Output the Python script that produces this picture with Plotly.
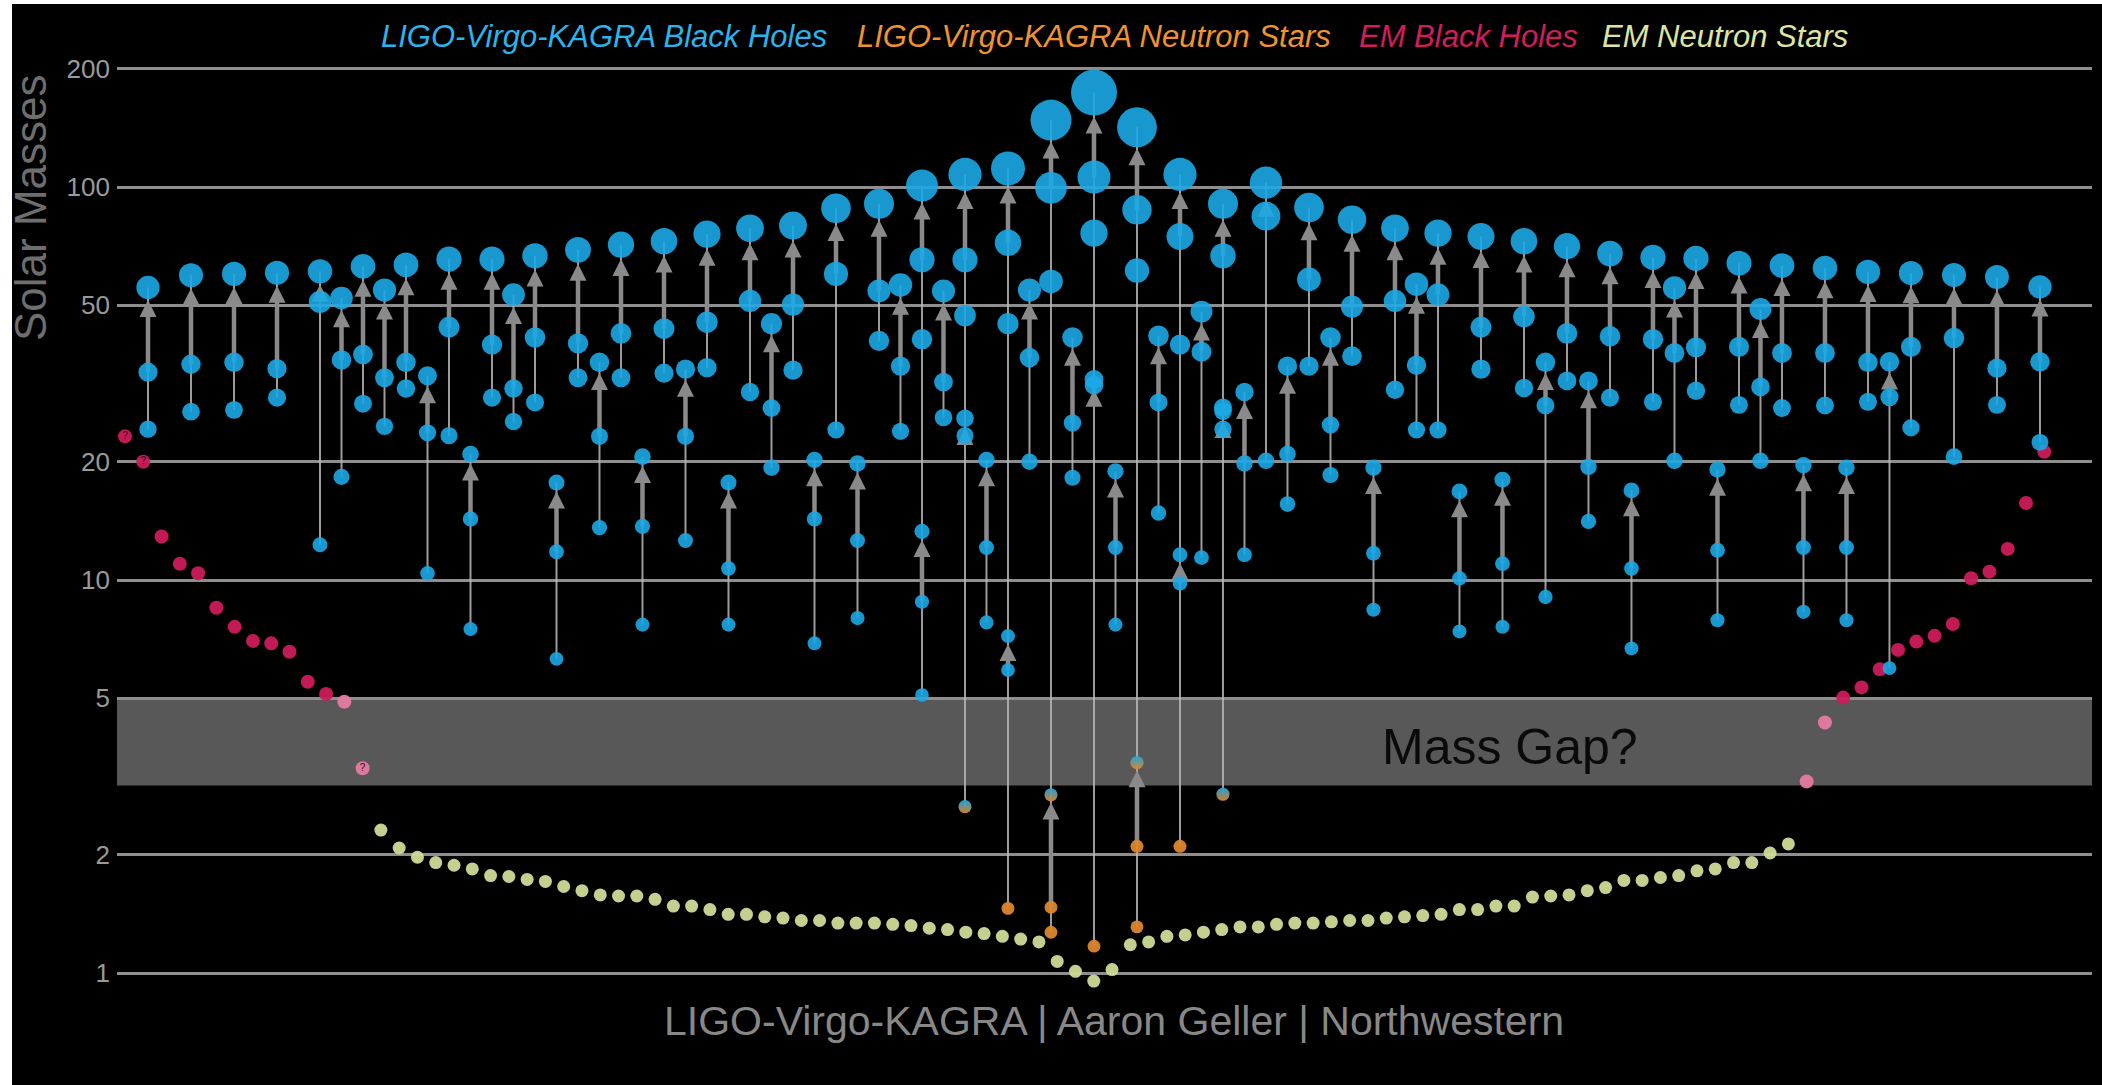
import numpy as np
import plotly.graph_objects as go

# ---------------- data ----------------
# LIGO-Virgo-KAGRA mergers: column slot, lighter component, heavier component, remnant
lvk_slot = [0, 2, 4, 6, 8, 9, 10, 11, 12, 13,
            14, 15, 16, 17, 18, 19, 20, 21, 22, 23,
            24, 25, 26, 27, 28, 29, 30, 31, 32, 33,
            34, 35, 36, 36, 37, 38, 38, 39, 40, 40,
            41, 42, 42, 43, 44, 44, 45, 46, 46, 47,
            48, 48, 49, 50, 50, 51, 52, 53, 54, 55,
            56, 57, 58, 59, 60, 61, 62, 63, 64, 65,
            66, 67, 68, 69, 70, 71, 72, 73, 74, 75,
            76, 77, 78, 79, 80, 81, 82, 84, 86, 88]
lvk_m2 = [24.2, 26.8, 27.1, 29.1, 12.3, 18.3, 28.1, 24.6, 30.7, 10.4,
          23.3, 7.5, 29.1, 25.3, 28.3, 6.3, 32.7, 13.6, 32.7, 7.7,
          33.6, 12.6, 34.7, 7.7, 30.1, 19.3, 34.2, 6.9, 24.1, 8.0,
          40.6, 23.9, 41.0, 5.1, 25.9, 47.1, 2.65, 7.8, 44.9, 1.46,
          20.0, 57.5, 1.27, 18.2, 76.3, 1.17, 7.7, 61.3, 1.31, 14.8,
          39.7, 2.10, 11.4, 27.5, 2.85, 11.6, 20.1, 15.6, 35.0, 18.5,
          37.1, 8.4, 30.5, 24.1, 24.1, 7.4, 34.4, 7.6, 30.8, 9.05,
          32.1, 14.1, 29.1, 6.7, 28.4, 20.1, 30.3, 7.9, 27.9, 20.1,
          27.4, 8.3, 27.8, 7.9, 28.4, 5.97, 24.4, 20.6, 27.9, 22.4]
lvk_m1 = [33.8, 35.4, 35.8, 34.5, 51.0, 36.3, 37.5, 32.7, 35.8, 23.7,
          44.0, 14.3, 39.7, 30.7, 41.4, 11.8, 40.0, 23.2, 42.4, 13.7,
          43.6, 23.2, 45.3, 10.7, 51.3, 27.4, 50.2, 14.3, 60.1, 12.6,
          54.4, 35.0, 65.3, 8.8, 31.9, 65.3, 23.3, 12.1, 72.1, 5.9,
          36.8, 99.5, 1.47, 25.1, 106.0, 31.3, 12.1, 87.5, 2.10, 28.3,
          74.8, 9.8, 38.1, 66.8, 24.2, 19.8, 84.3, 20.9, 58.2, 24.8,
          49.6, 11.7, 51.3, 35.2, 53.2, 10.1, 44.0, 11.0, 46.8, 27.8,
          42.4, 19.4, 41.7, 10.7, 41.0, 37.8, 39.1, 11.9, 39.2, 31.0,
          37.8, 12.1, 37.8, 12.1, 35.8, 29.2, 39.2, 41.3, 34.6, 35.9]
lvk_final = [55.5, 59.6, 60.1, 60.5, 61.0, 52.2, 62.8, 54.7, 63.4, 33.1,
             65.5, 20.9, 65.5, 53.2, 66.8, 17.7, 69.2, 35.8, 71.3, 20.6,
             72.8, 34.4, 75.9, 17.7, 78.5, 44.9, 79.8, 20.2, 88.3, 19.8,
             90.6, 56.3, 100.9, 13.3, 54.4, 107.6, 25.8, 20.2, 111.4, 7.2,
             54.7, 148.0, 2.84, 41.4, 174.0, 32.4, 18.9, 141.9, 3.43, 41.8,
             107.6, 11.6, 48.2, 90.6, 26.9, 30.1, 102.6, 35.0, 88.7, 41.4,
             82.6, 19.3, 78.5, 56.6, 76.3, 16.8, 74.8, 18.0, 72.8, 35.8,
             70.7, 32.1, 67.7, 16.9, 66.2, 55.4, 65.8, 19.1, 64.0, 48.9,
             63.1, 19.6, 62.2, 19.3, 60.8, 35.9, 60.4, 59.7, 59.0, 55.7]

# Electromagnetically observed compact objects (black holes on both wings, neutron stars between)
em_bh_left = [23.2, 20.0, 12.9, 11.0, 10.4, 8.5, 7.6, 7.0, 6.9, 6.57, 5.51, 5.13, 4.90, 3.32]
em_ns = [2.31, 2.08, 1.97, 1.91, 1.88, 1.84, 1.77, 1.76, 1.73, 1.71,
         1.66, 1.62, 1.58, 1.57, 1.57, 1.54, 1.48, 1.48, 1.45, 1.41,
         1.41, 1.39, 1.38, 1.36, 1.36, 1.34, 1.34, 1.34, 1.33, 1.32,
         1.30, 1.29, 1.27, 1.26, 1.24, 1.22, 1.20, 1.07, 1.01, 0.954,
         1.02, 1.18, 1.20, 1.24, 1.25, 1.27, 1.29, 1.31, 1.31, 1.33,
         1.34, 1.34, 1.35, 1.36, 1.36, 1.38, 1.39, 1.40, 1.41, 1.45,
         1.45, 1.48, 1.48, 1.56, 1.57, 1.58, 1.62, 1.65, 1.72, 1.72,
         1.75, 1.77, 1.82, 1.84, 1.91, 1.91, 2.02, 2.13]
em_bh_right = [3.07, 4.34, 5.02, 5.33, 5.93, 6.64, 6.97, 7.21, 7.73, 10.1, 10.5, 12.0, 15.7, 21.2]
em_bh_left_uncertain = [0, 1, 13]   # positions in em_bh_left marked with "?"

y_tick_values = [1, 2, 5, 10, 20, 50, 100, 200]
y_tick_labels = ["1", "2", "5", "10", "20", "50", "100", "200"]
mass_gap = (3, 5)
legend_labels = ["LIGO-Virgo-KAGRA Black Holes", "LIGO-Virgo-KAGRA Neutron Stars",
                 "EM Black Holes", "EM Neutron Stars"]

# ---------------- layout constants ----------------
W, H = 2102, 1085
ML, MR, MT, MB = 117, 10, 52, 85
PW, PH = W - ML - MR, H - MT - MB
X_RANGE = [-1.442, 90.42]
Y_RANGE = [-0.0687, 2.3435]
PPD = PH / (Y_RANGE[1] - Y_RANGE[0])          # pixels per decade on the mass axis
FONT = "Liberation Sans, Arial, Helvetica, sans-serif"

BLUE = "#1ca8e6"
ORANGE = "#dc862c"
CRIMSON = "#cc1a5c"
PINK_LIGHT = "#e57aa2"
NS_YELLOW = "#cfdb98"
ARROW_GREY = "#8a8a8a"
THIN_GREY = "#b8b8b8"


def px_x(p):
    return (p - ML) / PW


def px_y(p):
    return (MT + PH - p) / PH


def dot_size(m):
    return 12.6 + 0.192 * np.asarray(m, dtype=float)


slot = np.array(lvk_slot, dtype=float)
m2 = np.array(lvk_m2)
m1 = np.array(lvk_m1)
mf = np.array(lvk_final)

fig = go.Figure()

# thin connector per column, spanning from the lightest component to the heaviest remnant
thin_x, thin_y = [], []
for s in sorted(set(lvk_slot)):
    sel = slot == s
    thin_x += [s, s, None]
    thin_y += [m2[sel].min(), mf[sel].max(), None]
fig.add_trace(go.Scatter(x=thin_x, y=thin_y, mode="lines",
                         line=dict(color=THIN_GREY, width=2), opacity=0.85,
                         hoverinfo="skip"))

# arrow from the heavier component to the remnant, tip touching the remnant's dot
tip = mf / 10 ** ((dot_size(mf) / 2 + 1) / PPD)
thick_x, thick_y = [], []
for s, a, b in zip(slot, m1, tip):
    thick_x += [s, s, None]
    thick_y += [a, b * 10 ** (-8 / PPD), None]
fig.add_trace(go.Scatter(x=thick_x, y=thick_y, mode="lines",
                         line=dict(color=ARROW_GREY, width=4.5), hoverinfo="skip"))
fig.add_trace(go.Scatter(x=slot, y=tip, mode="markers",
                         marker=dict(symbol="arrow-up", size=17, color=ARROW_GREY,
                                     line=dict(width=0)),
                         hoverinfo="skip"))

# EM objects share one evenly spaced sequence
em_mass = np.array(em_bh_left + em_ns + em_bh_right)
em_x = np.linspace(-1.07, 88.2, len(em_mass))
n_l, n_ns = len(em_bh_left), len(em_ns)
ns_x = em_x[n_l:n_l + n_ns]
bh_idx = np.r_[np.arange(n_l), np.arange(n_l + n_ns, len(em_mass))]
bh_x, bh_m = em_x[bh_idx], em_mass[bh_idx]

fig.add_trace(go.Scatter(x=ns_x, y=em_ns, mode="markers",
                         marker=dict(size=13, color=NS_YELLOW, opacity=0.95, line=dict(width=0)),
                         hoverinfo="skip"))
fig.add_trace(go.Scatter(x=bh_x, y=bh_m, mode="markers",
                         marker=dict(size=14, line=dict(width=0), opacity=0.95,
                                     color=[PINK_LIGHT if m < 5 else CRIMSON for m in bh_m]),
                         hoverinfo="skip"))
fig.add_trace(go.Scatter(x=em_x[em_bh_left_uncertain],
                         y=em_mass[em_bh_left_uncertain], mode="text", text="?",
                         textfont=dict(size=10, color="#3d0619", family=FONT),
                         hoverinfo="skip"))


def add_dots(xs, ms):
    xs, ms = np.asarray(xs), np.asarray(ms)
    ns = ms < 2.3
    amb = (ms >= 2.3) & (ms < 3.6)
    bh = ms >= 3.6
    fig.add_trace(go.Scatter(x=xs[bh], y=ms[bh], mode="markers", hoverinfo="skip",
                             marker=dict(size=dot_size(ms[bh]), color=BLUE, opacity=0.9,
                                         line=dict(width=0))))
    fig.add_trace(go.Scatter(x=xs[ns], y=ms[ns], mode="markers", hoverinfo="skip",
                             marker=dict(size=dot_size(ms[ns]), color=ORANGE, opacity=0.95,
                                         line=dict(width=0))))
    fig.add_trace(go.Scatter(x=xs[amb], y=ms[amb], mode="markers", hoverinfo="skip",
                             marker=dict(size=dot_size(ms[amb]), color=BLUE, opacity=0.95,
                                         gradient=dict(type="vertical", color=ORANGE),
                                         line=dict(width=0))))


add_dots(np.r_[slot, slot], np.r_[m2, m1])
add_dots(slot, mf)

# ---------------- annotations ----------------
ann = []
legend_centers = [604, 1094, 1468, 1725]
legend_colors = ["#2bb4ec", "#ee9330", "#d21d5d", "#dde6a0"]
for lab, cx, col in zip(legend_labels, legend_centers, legend_colors):
    ann.append(dict(text=f"<i>{lab}</i>", x=px_x(cx), y=px_y(37), xref="paper", yref="paper",
                    xanchor="center", yanchor="middle", showarrow=False,
                    font=dict(size=31, color=col, family=FONT)))
ann.append(dict(text="Solar Masses", x=px_x(30), y=px_y(208), xref="paper", yref="paper",
                textangle=-90, xanchor="center", yanchor="middle", showarrow=False,
                font=dict(size=44, color="#6e6e6e", family=FONT)))
ann.append(dict(text="Mass Gap?", x=px_x(1380), y=px_y(747), xref="paper", yref="paper",
                xanchor="left", yanchor="middle", showarrow=False,
                font=dict(size=50, color="#0a0a0a", family=FONT)))
ann.append(dict(text="LIGO-Virgo-KAGRA | Aaron Geller | Northwestern",
                x=px_x(1114), y=px_y(1021), xref="paper", yref="paper",
                xanchor="center", yanchor="middle", showarrow=False,
                font=dict(size=41, color="#888888", family=FONT)))

shapes = [
    dict(type="rect", xref="paper", x0=0, x1=1, yref="y", y0=mass_gap[0], y1=mass_gap[1],
         fillcolor="#585858", line=dict(width=0), layer="below"),
    # white border strips along the left and top edges
    dict(type="rect", xref="paper", yref="paper", x0=px_x(0), x1=px_x(12),
         y0=px_y(H), y1=px_y(0), fillcolor="white", line=dict(width=0), layer="above"),
    dict(type="rect", xref="paper", yref="paper", x0=px_x(0), x1=px_x(W),
         y0=px_y(4), y1=px_y(0), fillcolor="white", line=dict(width=0), layer="above"),
]

fig.update_layout(
    width=W, height=H,
    margin=dict(l=ML, r=MR, t=MT, b=MB, pad=0),
    paper_bgcolor="black", plot_bgcolor="black",
    showlegend=False,
    xaxis=dict(range=X_RANGE, visible=False),
    yaxis=dict(type="log", range=Y_RANGE, tickvals=y_tick_values, ticktext=y_tick_labels,
               showgrid=True, gridcolor="#8e8e8e", gridwidth=3, zeroline=False,
               showline=False, ticks="", ticklabelstandoff=6,
               tickfont=dict(size=26, color="#9a9a9a", family=FONT)),
    annotations=ann,
    shapes=shapes,
)

fig.write_html("out.html")
